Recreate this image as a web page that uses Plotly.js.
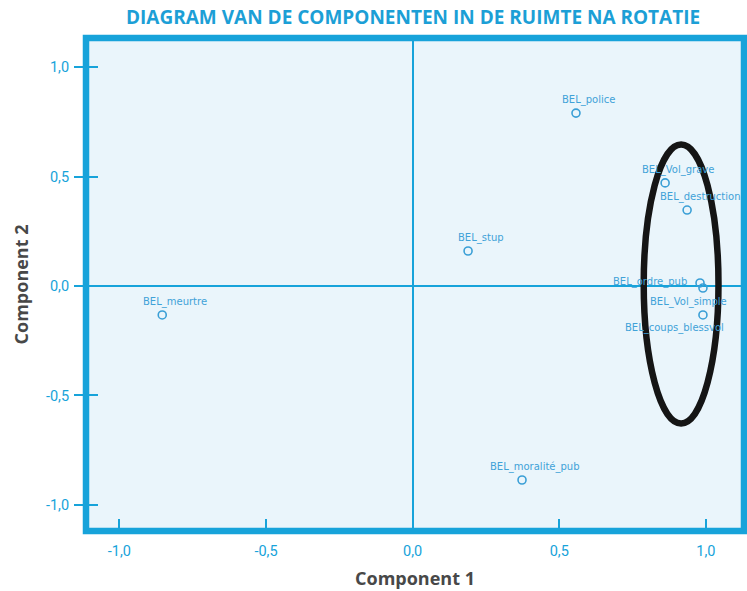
<!DOCTYPE html>
<html>
<head>
<meta charset="utf-8">
<script src="https://cdn.plot.ly/plotly-3.0.1.min.js"></script>
<style>html,body{margin:0;padding:0;background:#fff;}#chart{width:747px;height:591px;}</style>
</head>
<body>
<div id="chart"></div>
<script>
// Data
const variableNames = ["BEL_police", "BEL_Vol_grave", "BEL_destruction", "BEL_stup", "BEL_ordre_pub", "BEL_Vol_simple", "BEL_coups_blessvol", "BEL_meurtre", "BEL_moralité_pub"];
const component1 = [0.557, 0.861, 0.936, 0.189, 0.980, 0.990, 0.990, -0.854, 0.373];
const component2 = [0.790, 0.471, 0.347, 0.160, 0.014, -0.009, -0.132, -0.132, -0.886];
const tickValues = [-1.0, -0.5, 0.0, 0.5, 1.0];
const tickLabels = ["-1,0", "-0,5", "0,0", "0,5", "1,0"];

const CYAN = "#17a3da";
const POINT = "#3a9fd6";
const LABEL = "#3fa2d8";

// label placement (layout only): [xshift, yshift]
const labelOffsets = {
  "BEL_ordre_pub": [-50, 1],
  "BEL_Vol_simple": [-14, -14],
  "BEL_coups_blessvol": [-28, -13]
};

const traces = [
  {
    x: component1, y: component2, type: "scatter", mode: "markers",
    marker: {symbol: "circle-open", size: 8, color: POINT, line: {width: 1.6, color: POINT}},
    hoverinfo: "text", text: variableNames, showlegend: false, cliponaxis: false
  },
  {
    x: component1, y: component2, xaxis: "x", yaxis: "y2", type: "scatter", mode: "markers",
    marker: {opacity: 0}, hoverinfo: "skip", showlegend: false
  }
];

const annotations = variableNames.map((n, i) => {
  const off = labelOffsets[n] || [13, 13];
  return {
    x: component1[i], y: component2[i], xref: "x", yref: "y",
    text: n, showarrow: false, xshift: off[0], yshift: off[1],
    font: {family: "DejaVu Sans", size: 10, color: LABEL}
  };
});

annotations.push({
  text: "DIAGRAM VAN DE COMPONENTEN IN DE RUIMTE NA ROTATIE",
  xref: "paper", yref: "paper", x: 0.5, y: 1, yanchor: "middle", xanchor: "center",
  yshift: 21, xshift: -2,
  showarrow: false, font: {family: "Open Sans", size: 19, color: "#1c9fd6", weight: 700}
});

const xRange = [-1.114, 1.130];
const yRange = [-1.119, 1.133];

const layout = {
  width: 747, height: 591,
  margin: {l: 86, r: 3, t: 38, b: 60},
  paper_bgcolor: "#ffffff",
  plot_bgcolor: "#eaf5fb",
  separators: ",.",
  showlegend: false,
  xaxis: {
    range: xRange, tickvals: tickValues, ticktext: tickLabels,
    ticks: "inside", ticklen: 12, tickwidth: 2, tickcolor: CYAN,
    showgrid: false, zeroline: true, zerolinecolor: CYAN, zerolinewidth: 2,
    showline: false, ticklabelstandoff: 9,
    tickfont: {family: "Roboto", size: 14.5, color: CYAN},
    title: {text: "Component 1", standoff: 13, font: {family: "Open Sans", size: 18, color: "#484848", weight: 700}}
  },
  yaxis: {
    range: yRange, tickvals: tickValues, ticktext: tickLabels,
    ticks: "outside", ticklen: 11, tickwidth: 2, tickcolor: CYAN,
    showgrid: false, zeroline: true, zerolinecolor: CYAN, zerolinewidth: 2,
    showline: false, ticklabelstandoff: 2,
    tickfont: {family: "Roboto", size: 14.5, color: CYAN},
    title: {text: "Component 2", standoff: 12, font: {family: "Open Sans", size: 18, color: "#484848", weight: 700}}
  },
  yaxis2: {
    overlaying: "y", side: "left", range: yRange, tickvals: tickValues,
    ticks: "inside", ticklen: 12, tickwidth: 2, tickcolor: CYAN,
    showticklabels: false, showgrid: false, zeroline: false, showline: false
  },
  shapes: [
    {type: "rect", xref: "paper", yref: "paper", x0: 0, x1: 1, y0: 0, y1: 1,
     line: {color: CYAN, width: 6.5}, layer: "above"},
    {type: "circle", xref: "x", yref: "y", x0: 0.788, x1: 1.043, y0: -0.628, y1: 0.646,
     line: {color: "#151515", width: 6.5}, layer: "above"}
  ],
  annotations: annotations
};

Plotly.newPlot("chart", traces, layout, {displayModeBar: false, staticPlot: true});
</script>
</body>
</html>
